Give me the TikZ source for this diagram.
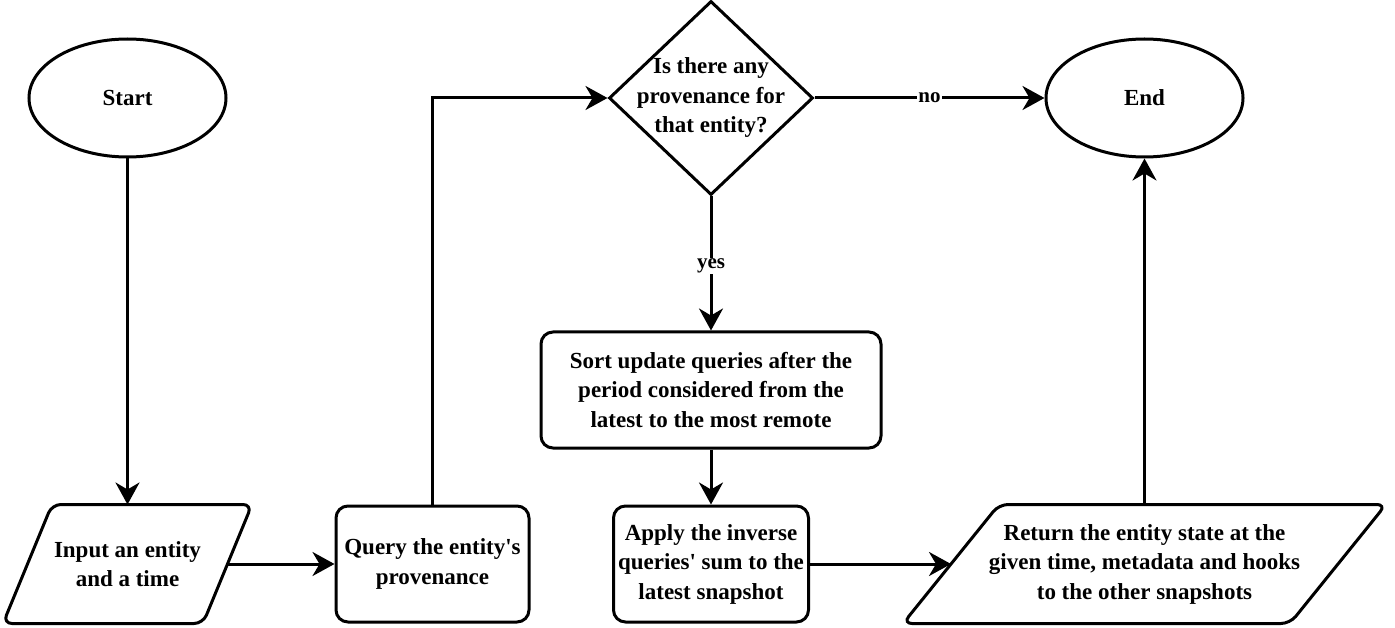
\documentclass[tikz,border=0pt]{standalone}
\usepackage{fontspec}
\setmainfont{Liberation Serif}
\usetikzlibrary{shapes.geometric,arrows.meta}
\begin{document}
\begin{tikzpicture}[x=1pt,y=-1pt,
  line width=3pt,
  txt/.style={font=\fontsize{23}{29.5}\selectfont\bfseries, align=center},
  term/.style={ellipse, draw, inner sep=0pt, minimum width=197pt, minimum height=118pt, txt},
  proc/.style={rectangle, draw, rounded corners=12pt, inner sep=0pt, minimum height=116pt, txt},
  iobox/.style={rectangle, inner sep=0pt, minimum height=116pt, txt},
  dec/.style={diamond, draw, inner sep=0pt, minimum width=204pt, minimum height=194pt},
  conn/.style={-{Stealth[length=22pt,width=24pt,inset=7pt]}, line width=3pt},
  lab/.style={fill=white, inner sep=1pt, font=\fontsize{21}{24}\selectfont\bfseries}
]
\useasboundingbox (0,0) rectangle (1395,628);

\node[term] (start) at (127.5,98) {Start};
\node[term] (end) at (1144.5,98) {End};

\node[iobox, minimum width=197pt] (input) at (127.5,564) {Input an entity\\and a time};
\draw[rounded corners=9pt] ([xshift=-24.5pt]input.south west) -- ([xshift=24.5pt]input.north west)
  -- ([xshift=24.5pt]input.north east) -- ([xshift=-24.5pt]input.south east) -- cycle;

\node[proc, minimum width=193pt] (query) at (432.5,564) {Query the entity\textquotesingle s\\provenance};

\node[dec, label={[txt]center:{Is there any\\provenance for\\that entity?}}] (dec) at (711,98) {};

\node[proc, minimum width=340pt] (sort) at (711,390) {Sort update queries after the\\period considered from the\\latest to the most remote};

\node[proc, minimum width=195pt] (apply) at (711,564) {Apply the inverse\\queries\textquotesingle{} sum to the\\latest snapshot};

\node[iobox, minimum width=384pt] (ret) at (1144.5,564) {Return the entity state at the\\given time, metadata and hooks\\to the other snapshots};
\draw[rounded corners=9pt] ([xshift=-48pt]ret.south west) -- ([xshift=48pt]ret.north west)
  -- ([xshift=48pt]ret.north east) -- ([xshift=-48pt]ret.south east) -- cycle;

\draw[conn] (start.south) -- (input.north);
\draw[conn] (input.east) -- (query.west);
\draw[conn] (query.north) |- (dec.west);
\draw[conn] (dec.east) -- node[lab, pos=0.5] {no} (end.west);
\draw[conn] (dec.south) -- node[lab, pos=0.52] {yes} (sort.north);
\draw[conn] (sort.south) -- (apply.north);
\draw[conn] (apply.east) -- (ret.west);
\draw[conn] (ret.north) -- (end.south);
\end{tikzpicture}
\end{document}
